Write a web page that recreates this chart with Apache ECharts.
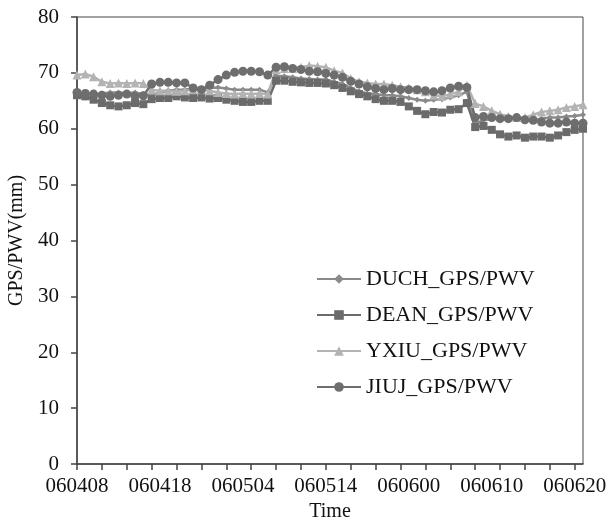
<!DOCTYPE html>
<html><head><meta charset="utf-8">
<script src="https://cdn.jsdelivr.net/npm/echarts@6/dist/echarts.min.js"></script>
<style>html,body{margin:0;padding:0;background:#fff}#c{width:613px;height:526px}</style>
</head><body><div id="c"></div>
<script>
const tickLabels = ['060408','060418','060504','060514','060600','060610','060620'];
const pointCount = 62;
const labelEvery = 10;
const duch = [65.8,65.6,65.8,66.3,66.5,66.5,66.4,66.5,66.2,66.0,66.5,66.8,67.0,67.0,67.2,67.0,67.3,67.4,67.2,67.0,67.0,67.0,67.0,66.5,69.5,69.4,69.2,69.0,68.9,68.8,68.8,68.4,68.0,67.3,66.7,66.3,66.2,66.0,66.0,65.8,65.5,65.2,65.0,65.2,65.3,65.6,66.0,66.6,61.0,61.5,61.8,62.0,62.0,61.8,61.8,61.6,61.8,62.0,62.0,62.2,62.3,62.5];
const dean = [66.0,65.8,65.2,64.6,64.2,64.0,64.2,64.6,64.4,65.3,65.5,65.5,65.8,65.6,65.5,65.6,65.4,65.5,65.2,65.0,64.8,64.8,65.0,65.0,68.6,68.6,68.4,68.3,68.2,68.2,68.1,67.8,67.3,66.7,66.2,65.8,65.3,65.0,65.0,64.8,64.0,63.2,62.6,63.0,62.9,63.4,63.5,64.6,60.3,60.5,59.8,59.0,58.6,58.8,58.4,58.6,58.6,58.4,58.8,59.4,59.8,60.0];
const yxiu = [69.6,69.8,69.3,68.4,68.1,68.2,68.1,68.2,68.1,67.0,66.8,66.8,66.7,66.8,67.0,67.0,66.8,66.5,66.3,66.2,66.3,66.2,66.3,66.2,70.6,70.8,70.8,71.0,71.3,71.2,71.0,70.4,70.0,69.0,68.4,68.2,68.0,68.0,67.8,67.5,67.3,67.0,66.6,66.0,65.8,66.2,66.6,67.8,64.5,64.0,63.2,62.6,62.2,62.0,62.0,62.5,63.0,63.2,63.4,63.8,64.0,64.3];
const jiuj = [66.5,66.3,66.2,66.0,65.8,66.0,66.2,65.8,65.9,68.0,68.3,68.3,68.2,68.2,67.3,67.0,67.8,68.8,69.6,70.1,70.3,70.3,70.2,69.6,71.0,71.1,70.8,70.6,70.3,70.2,69.9,69.6,69.2,68.5,68.0,67.5,67.2,67.0,67.2,67.0,67.0,67.0,66.8,66.6,66.8,67.3,67.6,67.4,62.0,62.2,62.0,61.8,61.8,62.0,61.6,61.5,61.2,61.0,61.0,61.2,61.0,61.0];

const categories = [];
for (let i = 0; i < pointCount; i++) categories.push(i % labelEvery === 0 ? tickLabels[i / labelEvery] : 'c' + i);

const font = 'Liberation Serif';
function mk(name, data, color, symbol, size) {
  return {name, type:'line', data, symbol, symbolSize:size, showSymbol:true, showAllSymbol:true,
    lineStyle:{color, width:2.5}, itemStyle:{color, borderWidth:0}, animation:false};
}
const chart = echarts.init(document.getElementById('c'));
chart.setOption({
  animation:false,
  grid:{left:77, right:30, top:17, bottom:62, show:true, borderColor:'#444', borderWidth:1,
    containLabel:false, outerBoundsMode:'none'},
  legend:{orient:'vertical', left:311, top:263, itemWidth:44, itemHeight:12, itemGap:14,
    textStyle:{fontFamily:font, fontSize:22, color:'#111'},
    data:['DUCH_GPS/PWV','DEAN_GPS/PWV','YXIU_GPS/PWV','JIUJ_GPS/PWV']},
  xAxis:{type:'category', data:categories, boundaryGap:false,
    name:'Time', nameLocation:'middle', nameGap:38,
    nameTextStyle:{fontFamily:font, fontSize:20, color:'#111'},
    axisLine:{lineStyle:{color:'#444', width:1.5}},
    axisTick:{interval:2, length:6, lineStyle:{color:'#444', width:1.5}},
    axisLabel:{interval:labelEvery-1, fontFamily:font, fontSize:21, color:'#111', margin:12, hideOverlap:false},
    splitLine:{show:false}},
  yAxis:{type:'value', min:0, max:80, interval:10,
    name:'GPS/PWV(mm)', nameLocation:'middle', nameGap:50,
    nameTextStyle:{fontFamily:font, fontSize:20, color:'#111'},
    axisLine:{show:true, lineStyle:{color:'#444', width:1.5}},
    axisTick:{show:true, length:6, lineStyle:{color:'#444', width:1.5}},
    axisLabel:{fontFamily:font, fontSize:21, color:'#111', margin:18},
    splitLine:{show:false}},
  series:[
    mk('DUCH_GPS/PWV', duch, '#8a8a8a', 'diamond', 6),
    mk('DEAN_GPS/PWV', dean, '#6b6b6b', 'rect', 8),
    mk('YXIU_GPS/PWV', yxiu, '#b3b3b3', 'triangle', 9),
    mk('JIUJ_GPS/PWV', jiuj, '#6e6e6e', 'circle', 9)
  ]
});
</script></body></html>
